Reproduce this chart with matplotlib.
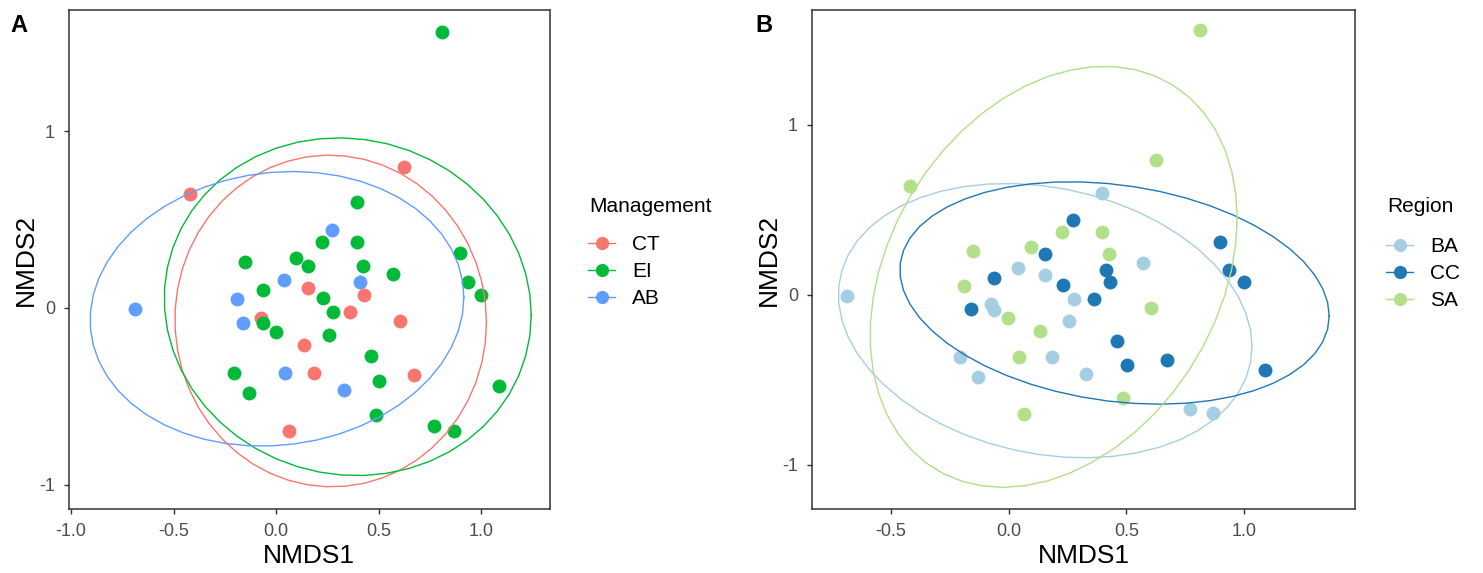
import numpy as np
import matplotlib.pyplot as plt
from matplotlib.lines import Line2D

plt.rcParams['font.family'] = ['Liberation Sans', 'DejaVu Sans']
plt.rcParams['axes.unicode_minus'] = False

# NMDS scores (same 45 samples in both panels)
nmds1 = [0.812, 0.395, 0.226, 0.395, 0.899, 0.096, -0.151, 0.155, 0.424, 0.570,
         0.934, 0.998, -0.064, 0.231, 0.277, -0.064, -0.002, 0.256, 0.461, -0.205,
         0.503, 1.090, -0.130, 0.487, 0.769, 0.868,
         0.626, -0.421, 0.155, 0.430, 0.362, -0.075, 0.603, 0.134, 0.184, 0.673, 0.063,
         0.271, 0.040, 0.412, -0.191, -0.687, -0.162, 0.042, 0.330]
nmds2 = [1.557, 0.600, 0.371, 0.371, 0.313, 0.280, 0.258, 0.239, 0.239, 0.190,
         0.148, 0.076, 0.099, 0.058, -0.023, -0.087, -0.138, -0.151, -0.270, -0.367,
         -0.410, -0.439, -0.482, -0.604, -0.668, -0.697,
         0.796, 0.643, 0.115, 0.076, -0.021, -0.056, -0.074, -0.210, -0.367, -0.381, -0.698,
         0.443, 0.157, 0.148, 0.052, -0.008, -0.085, -0.367, -0.464]
management = ['EI'] * 26 + ['CT'] * 11 + ['AB'] * 8
region = ['SA', 'BA', 'SA', 'SA', 'CC', 'SA', 'SA', 'CC', 'SA', 'BA',
          'CC', 'CC', 'CC', 'CC', 'BA', 'BA', 'SA', 'BA', 'CC', 'BA',
          'CC', 'CC', 'BA', 'SA', 'BA', 'BA',
          'SA', 'SA', 'BA', 'CC', 'CC', 'BA', 'SA', 'SA', 'BA', 'CC', 'SA',
          'CC', 'BA', 'CC', 'SA', 'BA', 'CC', 'SA', 'BA']

mgmt_levels = ['CT', 'EI', 'AB']
mgmt_colors = ['#F8766D', '#00BA38', '#619CFF']
region_levels = ['BA', 'CC', 'SA']
region_colors = ['#A6CEE3', '#1F78B4', '#B2DF8A']


def cov_trob(pts, nu=5, maxit=25, tol=0.01):
    # multivariate t estimate like MASS::cov.trob
    n, p = pts.shape
    loc = pts.mean(axis=0)
    w = np.ones(n)
    for _ in range(maxit):
        w0 = w
        X = pts - loc
        S = (X * (w / w.sum())[:, None]).T @ X
        Q = np.einsum('ij,jk,ik->i', X, np.linalg.inv(S), X)
        w = (nu + p) / (nu + Q)
        loc = (w[:, None] * pts).sum(axis=0) / w.sum()
        if np.all(np.abs(w - w0) < tol):
            break
    cov = (X * w[:, None]).T @ X / n
    return loc, cov


def ellipse(pts, level=0.95, segments=51):
    # same construction as ggplot2 stat_ellipse(type = "t")
    center, shape = cov_trob(pts)
    dfd = len(pts) - 1
    fq = dfd / 2 * ((1 - level) ** (-2 / dfd) - 1)   # qf(level, 2, dfd)
    radius = np.sqrt(2 * fq)
    a = np.linspace(0, 2 * np.pi, segments + 1)
    circle = np.column_stack([np.cos(a), np.sin(a)])
    L = np.linalg.cholesky(shape)
    return center + radius * circle @ L.T


def panel(ax, groups, levels, colors):
    x = np.array(nmds1)
    y = np.array(nmds2)
    g = np.array(groups)
    for lev, col in zip(levels, colors):
        m = g == lev
        ax.scatter(x[m], y[m], s=100, color=col, linewidths=0, zorder=2)
    for lev, col in zip(levels, colors):
        m = g == lev
        e = ellipse(np.column_stack([x[m], y[m]]))
        ax.plot(e[:, 0], e[:, 1], color=col, lw=1.0, zorder=3)
    for sp in ax.spines.values():
        sp.set_color('#333333')
        sp.set_linewidth(1.1)
    ax.tick_params(colors='#333333', labelcolor='#4D4D4D', labelsize=13,
                   length=3.5, width=1.0, pad=6.5)
    ax.set_xlabel('NMDS1', fontsize=19)
    ax.set_ylabel('NMDS2', fontsize=19)
    ax.set_yticks([-1, 0, 1], ['-1', '0', '1'])


fig = plt.figure(figsize=(14.83, 5.73), dpi=100)
W, H = 1483, 573

axA = fig.add_axes([69 / W, (H - 509) / H, 480.5 / W, 499 / H])
panel(axA, management, mgmt_levels, mgmt_colors)
axA.set_xlim(-1.01, 1.334)
axA.set_ylim(-1.136, 1.684)
axA.set_xticks([-1, -0.5, 0, 0.5, 1], ['-1.0', '-0.5', '0.0', '0.5', '1.0'])
axA.yaxis.set_label_coords(-0.064, 0.5)
axA.xaxis.set_label_coords(0.5, -0.07)

axB = fig.add_axes([812 / W, (H - 509) / H, 543 / W, 499 / H])
panel(axB, region, region_levels, region_colors)
axB.set_xlim(-0.835, 1.47)
axB.set_ylim(-1.259, 1.676)
axB.set_xticks([-0.5, 0, 0.5, 1], ['-0.5', '0.0', '0.5', '1.0'])
axB.yaxis.set_label_coords(-0.057, 0.5)
axB.xaxis.set_label_coords(0.5, -0.07)

fig.text(10 / W, 1 - 25 / H, 'A', fontsize=17, fontweight='bold', va='center')
fig.text(755 / W, 1 - 25 / H, 'B', fontsize=17, fontweight='bold', va='center')


def legend(title, levels, colors, left, title_y, top):
    fig.text((left + 1) / W, 1 - title_y / H, title, fontsize=15, va='center',
             color='black')
    handles = [Line2D([], [], color=c, marker='o', markersize=9.5, lw=1.0,
                      markeredgewidth=0) for c in colors]
    fig.legend(handles, levels, loc='upper left',
               bbox_to_anchor=(left / W, 1 - top / H), frameon=False,
               fontsize=15, handlelength=1.3, handletextpad=0.8,
               labelspacing=0.38, borderpad=0, borderaxespad=0)


legend('Management', mgmt_levels, mgmt_colors, 588, 207, 235)
legend('Region', region_levels, region_colors, 1386, 207, 237)

fig.savefig('out.png', dpi=100)
